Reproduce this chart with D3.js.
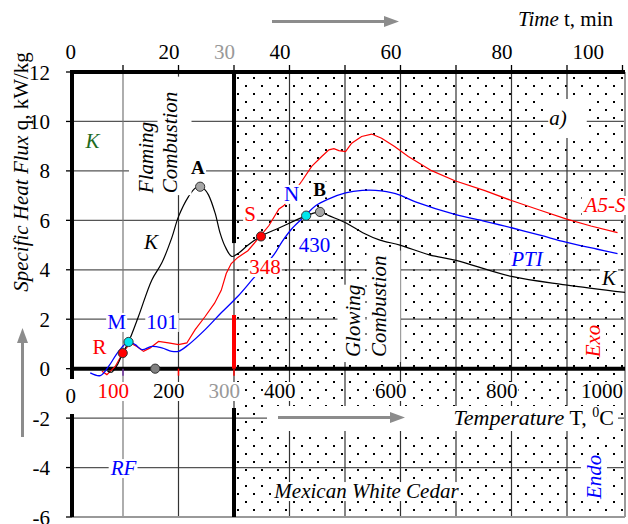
<!DOCTYPE html>
<html>
<head>
<meta charset="utf-8">
<script src="https://cdnjs.cloudflare.com/ajax/libs/d3/7.8.5/d3.min.js"></script>
<style>
  body { margin: 0; background: #fff; }
  svg { display: block; }
  text { font-family: "Liberation Serif", "Times New Roman", serif; }
</style>
</head>
<body>
<svg id="chart"></svg>
<script>
// ---- data: [temperature T (C), specific heat flux q (kW/kg)]
var seriesK = [[72,-0.1],[80,-0.14],[91,0.2],[99.5,0.63],[110,1.08],[128,2.12],[152,3.59],[170,4.28],
  [188,5.3],[200,6.15],[218,6.96],[230,7.3],[239,7.36],[247,7.25],[254,7.03],[266,6.29],[275,5.48],
  [284,4.94],[296,4.54],[308,4.67],[326,5.01],[348,5.35],[382,5.7],[430,6.18],[455,6.34],[472,6.18],
  [502,5.89],[532,5.5],[563,5.2],[599,5.0],[652,4.6],[700,4.38],[800,3.73],[897,3.39],[1006,3.08]];

var seriesA5S = [[62,-0.1],[71,-0.24],[86,0.09],[99.5,0.63],[113,1.04],[125,0.9],[137,0.7],[149,0.84],
  [164,1.1],[182,1.04],[200,0.97],[215,1.04],[230,1.58],[248,2.11],[265,2.65],[277,3.17],[286,3.85],
  [295,4.25],[307,4.5],[325,4.77],[347,5.35],[363,5.79],[381,6.46],[390,6.6],[422,7.58],[440,8.18],
  [458,8.58],[471,8.85],[480,8.9],[489,8.82],[501,8.78],[512,9.12],[530,9.39],[548,9.49],[566,9.32],[590,8.98],
  [614,8.58],[656,8.01],[698,7.6],[752,7.2],[800,6.8],[853,6.4],[898,6.06],[943,5.77],[991,5.5]];

var seriesPTI = [[41,-0.17],[59,-0.28],[74,0.09],[92,0.7],[110,1.08],[122,0.97],[134,0.77],[152,0.9],
  [170,0.84],[188,0.7],[200,0.7],[218,0.97],[248,1.58],[277,2.26],[307,2.93],[334,3.63],[372,4.61],
  [387,5.15],[405,5.68],[428,6.18],[447,6.59],[471,6.87],[501,7.11],[531,7.21],[555,7.21],[591,7.08],
  [627,6.75],[698,6.24],[752,5.96],[800,5.7],[853,5.39],[898,5.12],[955,4.83],[991,4.65]];

var pointsMarked = [[239,7.36,"#a6a6a6"],[455,6.34,"#a6a6a6"],[99.5,0.63,"#ff0000"],[110,1.08,"#00e5ee"],
  [348.6,5.35,"#ff0000"],[430,6.19,"#00e5ee"],[158,0,"#808080"]];

var yTicks = [12,10,8,6,4,2,0,-2,-4,-6];
var tempGrid = [100,200,300,400,500,600,700,800,900];
var tempLabels = [[0,"#000"],[100,"#ff0000"],[200,"#000"],[300,"#999"],[400,"#000"],[600,"#000"],[800,"#000"],[1000,"#000"]];
var timeTicks = [10,20,30,40,50,60,70,80,90,100];
var timeLabels = [[0,"#000"],[20,"#000"],[30,"#999"],[40,"#000"],[60,"#000"],[80,"#000"],[100,"#000"]];
var axisTicks = [[100,"#7030a0"],[200,"#ff0000"],[300,"#ff0000"]];
// flaming / glowing boundary at 300 C, drawn in pieces [q from, q to, colour]
var boundary = [[12,5.08,"#000"],[2.17,0,"#ff0000"],[-1.59,-6,"#000"]];

var width = 628, height = 524;
var plot = { left: 72, right: 625, top: 72, bottom: 517 };
var fs = 21;

var x = d3.scaleLinear().domain([0, 1000]).range([67.5, 622.5]);
var xt = d3.scaleLinear().domain([0, 100]).range([67.5, 622.5]);
var y = d3.scaleLinear().domain([-6, 12]).range([plot.bottom, plot.top]);

var svg = d3.select("#chart").attr("width", width).attr("height", height);
var defs = svg.append("defs");

var pat = defs.append("pattern").attr("id", "dots")
  .attr("patternUnits", "userSpaceOnUse")
  .attr("x", 13).attr("y", 13).attr("width", 16).attr("height", 16);
pat.append("rect").attr("x", 0).attr("y", 0).attr("width", 2).attr("height", 2).attr("fill", "#000");
pat.append("rect").attr("x", 8).attr("y", 8).attr("width", 2).attr("height", 2).attr("fill", "#000");

defs.append("clipPath").attr("id", "clip").append("rect")
  .attr("x", plot.left).attr("y", plot.top)
  .attr("width", plot.right - plot.left).attr("height", plot.bottom - plot.top);

var gridLayer = svg.append("g");
var frameLayer = svg.append("g");
var curveLayer = svg.append("g").attr("clip-path", "url(#clip)");
var boxLayer = svg.append("g");
var labelLayer = svg.append("g");
var markLayer = svg.append("g");

// glowing zone dotted
gridLayer.append("rect")
  .attr("x", x(300) + 2).attr("y", plot.top)
  .attr("width", plot.right - x(300) - 2).attr("height", plot.bottom - plot.top)
  .attr("fill", "url(#dots)");

// grid
gridLayer.selectAll(".hg").data(yTicks.filter(function(v){ return v > -6 && v < 12 && v != 0; }))
  .enter().append("line")
  .attr("x1", plot.left).attr("x2", plot.right)
  .attr("y1", function(d){ return y(d); }).attr("y2", function(d){ return y(d); })
  .attr("stroke", "#555").attr("stroke-width", 1.3);

gridLayer.selectAll(".vg").data(tempGrid).enter().append("line")
  .attr("x1", function(d){ return x(d); }).attr("x2", function(d){ return x(d); })
  .attr("y1", plot.top).attr("y2", plot.bottom)
  .attr("stroke", function(d){ return d == 100 ? "#777" : "#333"; }).attr("stroke-width", 1.2);

// white band behind the temperature arrow
gridLayer.append("rect").attr("x", 267).attr("y", 406).attr("width", 351).attr("height", 25).attr("fill", "#fff");

// frame
frameLayer.append("line").attr("x1", plot.right).attr("x2", plot.right).attr("y1", plot.top).attr("y2", plot.bottom)
  .attr("stroke", "#999").attr("stroke-width", 2);
frameLayer.append("line").attr("x1", plot.left).attr("x2", plot.right).attr("y1", plot.bottom).attr("y2", plot.bottom)
  .attr("stroke", "#999").attr("stroke-width", 2);
frameLayer.append("line").attr("x1", plot.left - 2).attr("x2", plot.right).attr("y1", plot.top).attr("y2", plot.top)
  .attr("stroke", "#000").attr("stroke-width", 4);
frameLayer.append("line").attr("x1", plot.left).attr("x2", plot.left).attr("y1", plot.top).attr("y2", plot.bottom)
  .attr("stroke", "#000").attr("stroke-width", 4);
frameLayer.append("line").attr("x1", plot.left).attr("x2", plot.right).attr("y1", y(0)).attr("y2", y(0))
  .attr("stroke", "#000").attr("stroke-width", 4);

frameLayer.selectAll(".bd").data(boundary).enter().append("line")
  .attr("x1", x(300)).attr("x2", x(300))
  .attr("y1", function(d){ return y(d[0]); }).attr("y2", function(d){ return y(d[1]); })
  .attr("stroke", function(d){ return d[2]; }).attr("stroke-width", 4);

frameLayer.selectAll(".at").data(axisTicks).enter().append("line")
  .attr("x1", function(d){ return x(d[0]); }).attr("x2", function(d){ return x(d[0]); })
  .attr("y1", y(0)).attr("y2", y(0) + 7)
  .attr("stroke", function(d){ return d[1]; }).attr("stroke-width", 1.5);

// axis ticks
frameLayer.selectAll(".yt").data(yTicks).enter().append("line")
  .attr("x1", plot.left - 6).attr("x2", plot.left)
  .attr("y1", function(d){ return y(d); }).attr("y2", function(d){ return y(d); })
  .attr("stroke", "#000").attr("stroke-width", 1.3);
frameLayer.selectAll(".tt").data(timeTicks).enter().append("line")
  .attr("x1", function(d){ return xt(d); }).attr("x2", function(d){ return xt(d); })
  .attr("y1", plot.top - 7).attr("y2", plot.top)
  .attr("stroke", "#000").attr("stroke-width", 1.3);

// curves
var smooth = d3.line().x(function(d){ return x(d[0]); }).y(function(d){ return y(d[1]); })
  .curve(d3.curveCatmullRom.alpha(0.5));
var rough = d3.line().x(function(d){ return x(d[0]); }).y(function(d){ return y(d[1]); });

curveLayer.append("path").datum(seriesA5S).attr("d", rough)
  .attr("fill", "none").attr("stroke", "#ff0000").attr("stroke-width", 1.2);
curveLayer.append("path").datum(seriesPTI).attr("d", smooth)
  .attr("fill", "none").attr("stroke", "#0000ff").attr("stroke-width", 1.3);
curveLayer.append("path").datum(seriesK).attr("d", smooth)
  .attr("fill", "none").attr("stroke", "#000").attr("stroke-width", 1.2);

// markers
markLayer.selectAll("circle").data(pointsMarked).enter().append("circle")
  .attr("cx", function(d){ return x(d[0]); }).attr("cy", function(d){ return y(d[1]); })
  .attr("r", 4.6).attr("fill", function(d){ return d[2]; })
  .attr("stroke", "#333").attr("stroke-width", 1);

// text with a white box behind it
function boxed(px, py, parts, opt) {
  opt = opt || {};
  var g = labelLayer.append("g")
    .attr("transform", "translate(" + px + "," + py + ")" + (opt.rot ? " rotate(-90)" : ""));
  var t = g.append("text")
    .attr("text-anchor", opt.anchor || "middle")
    .attr("dominant-baseline", opt.base || "central")
    .attr("font-size", opt.size || fs)
    .attr("fill", opt.color || "#000");
  parts.forEach(function(p){
    var s = t.append("tspan").text(p[0]);
    if (p[1]) s.attr("font-style", p[1]);
    if (p[2]) s.attr("font-weight", p[2]);
  });
  if (opt.noBox) return;
  var b = t.node().getBoundingClientRect();
  var o = svg.node().getBoundingClientRect();
  var p = opt.pad || [1, 1, -3, -2];
  boxLayer.append("rect")
    .attr("x", b.left - o.left - p[0]).attr("y", b.top - o.top - p[2])
    .attr("width", b.width + p[0] + p[1]).attr("height", b.height + p[2] + p[3])
    .attr("fill", "#fff");
}

// tick labels
yTicks.forEach(function(v){
  boxed(50, y(v) + 7.5, [[String(v)]], { anchor: "end", base: "auto", noBox: true });
});
tempLabels.forEach(function(d){
  var px = Math.max(76, Math.min(x(d[0]) + 6, 623));
  var py = d[0] == 0 ? 403 : 398;
  boxed(px, py, [[String(d[0])]], { anchor: "end", base: "auto", color: d[1],
    pad: d[0] == 0 ? [1, 1, 5, 6] : [1, 1, -3, -2] });
});
timeLabels.forEach(function(d){
  var px = Math.max(76, Math.min(xt(d[0]) + 1, 604));
  boxed(px, 59, [[String(d[0])]], { anchor: "end", base: "auto", color: d[1], noBox: true });
});

// axis titles
boxed(21, 172, [["Specific Heat Flux ", "italic"], ["q, kW/kg"]], { rot: true, noBox: true });
boxed(613, 26, [["Time", "italic"], [" t, min"]], { anchor: "end", base: "auto", noBox: true });
(function(){
  var t = labelLayer.append("text").attr("x", 614).attr("y", 425).attr("text-anchor", "end")
    .attr("font-size", 22);
  t.append("tspan").attr("font-style", "italic").text("Temperature");
  t.append("tspan").text(" T, ");
  t.append("tspan").attr("font-size", 14).attr("dy", -8).text("0");
  t.append("tspan").attr("font-size", 22).attr("dy", 8).text("C");
})();

// annotations, positioned in data coordinates
var notes = [
  ["K", 45, 9.21, { color: "#1e6b1e", italic: true }],
  ["A", 235, 8.16, { bold: true, size: 19 }],
  ["K", 150.5, 5.13, { italic: true }],
  ["M", 88.3, 1.89, { color: "#0000ff" }],
  ["101", 170.3, 1.89, { color: "#0000ff" }],
  ["R", 57.7, 0.88, { color: "#ff0000" }],
  ["S", 328.8, 6.26, { color: "#ff0000" }],
  ["348", 355.9, 4.11, { color: "#ff0000" }],
  ["N", 403.6, 7.07, { color: "#0000ff" }],
  ["B", 454, 7.27, { bold: true, size: 19 }],
  ["430", 445, 5.0, { color: "#0000ff" }],
  ["A5-S", 968.5, 6.62, { color: "#ff0000", italic: true }],
  ["PTI", 828, 4.44, { color: "#0000ff", italic: true }],
  ["K", 975.7, 3.67, { italic: true }],
  ["RF", 100.9, -4.02, { color: "#0000ff", italic: true }],
  ["a)", 883.8, 10.14, { italic: true, pad: [1, 20, 7, 8] }],
  ["Mexican White Cedar", 538.7, -4.95, { italic: true }],
  ["Exo", 946.8, 1.12, { color: "#ff0000", italic: true, rot: true }],
  ["Endo", 948.6, -4.38, { color: "#0000ff", italic: true, rot: true }],
  ["Flaming", 141.4, 7.1, { italic: true, rot: true, anchor: "start", pad: [5, 0, 0, 2] }],
  ["Combustion", 183.8, 7.1, { italic: true, rot: true, anchor: "start", pad: [0, 10, 15, 2] }],
  ["Glowing", 515.3, 0.47, { italic: true, rot: true, anchor: "start", pad: [4, 0, 0, 5] }],
  ["Combustion", 560.4, 0.47, { italic: true, rot: true, anchor: "start", pad: [0, 10, 5, 5] }]
];
notes.forEach(function(n){
  var o = n[3];
  boxed(x(n[1]), y(n[2]), [[n[0], o.italic ? "italic" : null, o.bold ? "bold" : null]], {
    color: o.color, size: o.size, rot: o.rot, anchor: o.anchor, pad: o.pad
  });
});

// gray direction arrows
var arrows = [[272, 21.5, 399, 21.5], [278, 417.5, 405, 417.5], [22.5, 437, 22.5, 328]];
arrows.forEach(function(a){
  var ang = Math.atan2(a[3] - a[1], a[2] - a[0]);
  var hl = 15, hw = 5.5;
  var bx = a[2] - hl * Math.cos(ang), by = a[3] - hl * Math.sin(ang);
  labelLayer.append("line").attr("x1", a[0]).attr("y1", a[1]).attr("x2", bx).attr("y2", by)
    .attr("stroke", "#8c8c8c").attr("stroke-width", 3);
  labelLayer.append("path")
    .attr("d", "M" + a[2] + "," + a[3] +
      "L" + (bx - hw * Math.sin(ang)) + "," + (by + hw * Math.cos(ang)) +
      "L" + (bx + hw * Math.sin(ang)) + "," + (by - hw * Math.cos(ang)) + "Z")
    .attr("fill", "#8c8c8c");
});
</script>
</body>
</html>
